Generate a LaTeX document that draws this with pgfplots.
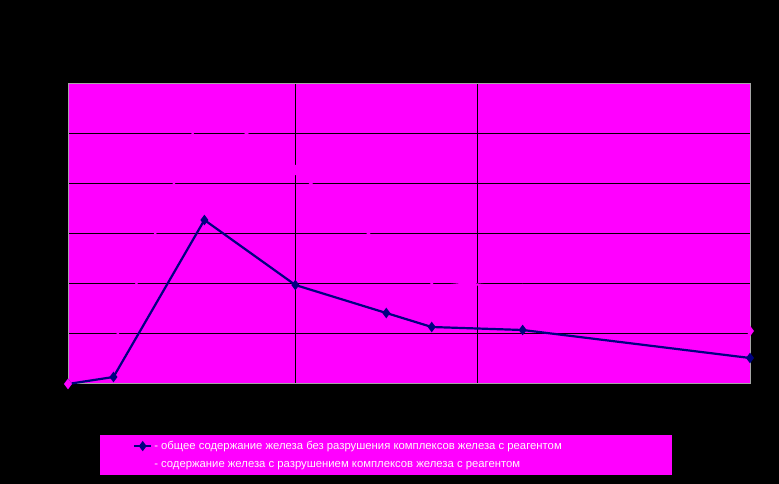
\documentclass[border=0pt]{standalone}
\usepackage{fontspec}
\setmainfont{Liberation Sans}
\usepackage{pgfplots}
\pgfplotsset{compat=1.18}
\definecolor{bgmag}{RGB}{255,0,255}
\definecolor{navyline}{RGB}{0,0,128}
\begin{document}
\begin{tikzpicture}[x=1pt,y=1pt]
\fill[black] (0,0) rectangle (779,484);
\begin{axis}[
  at={(68pt,100pt)}, anchor=south west,
  scale only axis, width=682pt, height=300pt,
  xmin=0, xmax=15, ymin=0, ymax=6,
  xtick={5,9}, ytick={1,2,3,4,5},
  xticklabels={}, yticklabels={},
  major tick length=0pt,
  grid=major,
  major grid style={black, line width=1pt},
  axis line style={gray!70, line width=1pt},
  axis background/.style={fill=bgmag},
  clip=false,
  legend style={
    at={(0.0469,-0.17)}, anchor=north west,
    fill=bgmag, draw=none, text=white!92!pink,
    inner xsep=33pt, inner ysep=4pt,
    font=\fontsize{11.3pt}{13pt}\selectfont,
    row sep=6.5pt,
    /tikz/every even column/.append style={column sep=2pt},
  },
  legend image post style={line width=2pt},
  legend cell align=left,
]
\addplot[navyline, line width=2.2pt, mark=diamond*, mark size=3.5pt, mark options={solid}]
  coordinates {(0,0) (1,0.14) (3,3.28) (5,1.98) (7,1.42) (8,1.14) (10,1.08) (15,0.52)};
\addlegendentry{\makebox[483pt][l]{- общее содержание железа без разрушения комплексов железа с реагентом}}
\addplot[bgmag, line width=2.2pt, mark=diamond*, mark size=3.5pt]
  coordinates {(0,0) (1,0.78) (3,5.64) (5,4.28) (7,2.70) (8,2.08) (10,1.90) (15,1.06)};
\addlegendentry{\makebox[483pt][l]{- содержание железа с разрушением комплексов железа с реагентом}}
\end{axis}
\end{tikzpicture}
\end{document}
